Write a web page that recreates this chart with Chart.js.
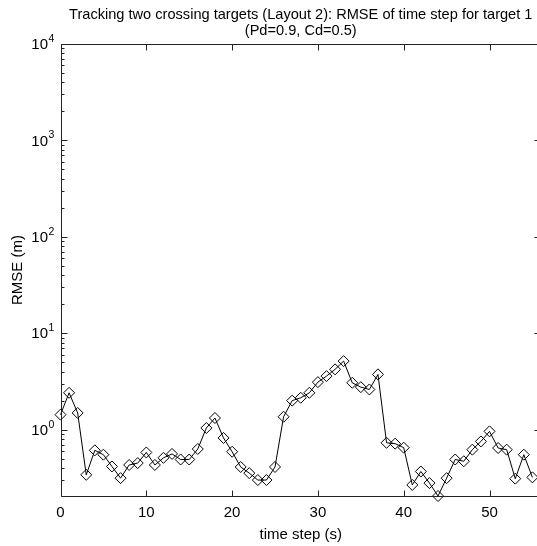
<!DOCTYPE html>
<html>
<head>
<meta charset="utf-8">
<script src="https://cdn.jsdelivr.net/npm/chart.js@4.4.1/dist/chart.umd.min.js"></script>
<style>
  html, body { margin: 0; padding: 0; background: #fff; overflow: hidden; }
  #wrap { width: 537px; height: 546px; overflow: hidden; }
</style>
</head>
<body>
<div id="wrap"><canvas id="chart" width="541" height="546"></canvas></div>
<script>
const timeStep = [0,1,2,3,4,5,6,7,8,9,10,11,12,13,14,15,16,17,18,19,20,21,22,23,24,25,26,27,
	28,29,30,31,32,33,34,35,36,37,38,39,40,41,42,43,44,45,46,47,48,49,50,51,52,53,54,55];
const rmse = [1.43,2.41,1.49,0.34,0.61,0.55,0.415,0.314,0.43,0.45,0.58,0.43,0.51,0.56,0.49,0.49,
	0.63,1.04,1.32,0.82,0.59,0.41,0.354,0.30,0.30,0.41,1.36,2.0,2.14,2.41,3.11,3.59,4.22,5.14,
	3.06,2.76,2.61,3.74,0.73,0.715,0.65,0.267,0.368,0.279,0.205,0.314,0.49,0.47,0.62,0.755,0.96,
	0.645,0.62,0.31,0.55,0.32];
const xTicks = [0, 10, 20, 30, 40, 50];
const yDecades = [1, 10, 100, 1000, 10000];
const yExponents = ['0', '1', '2', '3', '4'];

const FONT = '"Liberation Sans", Arial, sans-serif';
const AXIS = '#222';

// matlab style box, inward ticks and 10^n labels
const matlabAxes = {
	id: 'matlabAxes',
	afterDraw(chart) {
		const ctx = chart.ctx;
		const a = chart.chartArea;
		const xs = chart.scales.x;
		const ys = chart.scales.y;
		const L = Math.round(a.left) + 0.5, R = Math.round(a.right) - 0.5;
		const T = Math.round(a.top) + 0.5, B = Math.round(a.bottom) + 0.5;
		ctx.save();
		ctx.strokeStyle = AXIS;
		ctx.lineWidth = 1;
		ctx.beginPath();
		ctx.moveTo(L, B);
		ctx.lineTo(L, T);
		ctx.lineTo(R, T);
		ctx.lineTo(R, B);
		ctx.lineTo(L, B);
		xTicks.forEach((t) => {
			const px = Math.round(xs.getPixelForValue(t)) + 0.5;
			ctx.moveTo(px, B);
			ctx.lineTo(px, B - 6);
			ctx.moveTo(px, T);
			ctx.lineTo(px, T + 6);
		});
		yDecades.forEach((d, i) => {
			const py = Math.round(ys.getPixelForValue(d)) + 0.5;
			ctx.moveTo(L, py);
			ctx.lineTo(L + 6, py);
			ctx.moveTo(R, py);
			ctx.lineTo(R - 6, py);
			const bases = i === 0 ? [d / 10, d] : [d];
			bases.forEach((base) => {
				for (let m = 2; m <= 9; m++) {
					const v = base * m;
					if (v < ys.min || v > ys.max) continue;
					const pm = Math.round(ys.getPixelForValue(v)) + 0.5;
					ctx.moveTo(L, pm);
					ctx.lineTo(L + 3, pm);
					ctx.moveTo(R, pm);
					ctx.lineTo(R - 3, pm);
				}
			});
		});
		ctx.stroke();

		ctx.fillStyle = '#000';
		yDecades.forEach((d, i) => {
			const py = ys.getPixelForValue(d);
			ctx.font = '15px ' + FONT;
			ctx.textAlign = 'right';
			ctx.textBaseline = 'middle';
			ctx.fillText('10', 48, py + 1);
			ctx.font = '10.5px ' + FONT;
			ctx.textAlign = 'left';
			ctx.textBaseline = 'alphabetic';
			ctx.fillText(yExponents[i], 48.5, py - 2);
		});
		ctx.restore();
	}
};

new Chart(document.getElementById('chart'), {
	type: 'line',
	data: {
		labels: timeStep,
		datasets: [{
			data: timeStep.map((t, i) => ({ x: t, y: rmse[i] })),
			borderColor: '#000',
			borderWidth: 1,
			tension: 0,
			pointStyle: 'rectRot',
			pointRadius: 5.5,
			pointBorderWidth: 1,
			pointBorderColor: '#000',
			pointBackgroundColor: 'rgba(0,0,0,0)',
			clip: false,
		}],
	},
	options: {
		responsive: false,
		animation: false,
		layout: { padding: 0, autoPadding: false },
		plugins: {
			legend: { display: false },
			tooltip: { enabled: false },
			title: {
				display: true,
				fullSize: false,
				text: ['Tracking two crossing targets (Layout 2): RMSE of time step for target 1', '(Pd=0.9, Cd=0.5)'],
				color: '#000',
				font: { family: FONT, size: 14.6, weight: 'normal', lineHeight: 1.05 },
				padding: { top: 7.7, bottom: 5.6 },
			},
		},
		scales: {
			x: {
				type: 'linear',
				min: 0,
				max: 56,
				afterBuildTicks: (s) => { s.ticks = xTicks.map((v) => ({ value: v })); },
				afterFit: (s) => { s.height = 50; },
				grid: { display: false, drawTicks: false },
				border: { display: false },
				ticks: { color: '#000', padding: 8, maxRotation: 0, font: { family: FONT, size: 15 } },
				title: { display: true, text: 'time step (s)', color: '#000', padding: { top: 0, bottom: 4 }, font: { family: FONT, size: 15, lineHeight: 1 } },
			},
			y: {
				type: 'logarithmic',
				min: 0.205,
				max: 10000,
				afterFit: (s) => { s.width = 60.5; },
				grid: { display: false, drawTicks: false },
				border: { display: false },
				ticks: { display: false },
				title: { display: true, text: 'RMSE (m)', color: '#000', padding: { top: 10, bottom: 0 }, font: { family: FONT, size: 15, lineHeight: 1 } },
			},
		},
	},
	plugins: [matlabAxes],
});
</script>
</body>
</html>
